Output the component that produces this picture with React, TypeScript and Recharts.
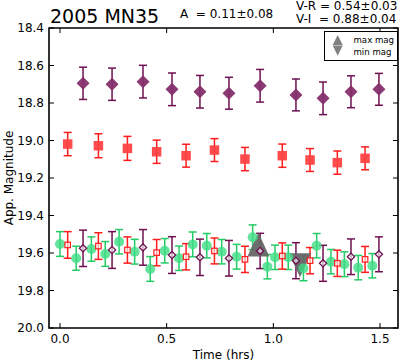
import {
  ComposedChart,
  Scatter,
  XAxis,
  YAxis,
  ErrorBar,
  ReferenceArea,
  Legend,
} from 'recharts';

const FONT = '"DejaVu Sans", Verdana, sans-serif';
const PLOT_W = 349;
const PLOT_H = 300;

const xTicks = [0, 0.5, 1.0, 1.5];
const yTicks = [18.4, 18.6, 18.8, 19.0, 19.2, 19.4, 19.6, 19.8, 20.0];
const xDomain = [-0.0516, 1.5844];
const yDomain = [18.4, 20.0];

// I band (diamonds), observed and shifted by V-I
const iTimes = [0.108, 0.244, 0.389, 0.525, 0.656, 0.792, 0.938, 1.106, 1.233, 1.364, 1.495];
const iMags = [18.695, 18.7, 18.686, 18.727, 18.74, 18.748, 18.708, 18.757, 18.775, 18.74, 18.727];
const iErr = [0.086, 0.086, 0.087, 0.087, 0.087, 0.085, 0.087, 0.085, 0.087, 0.085, 0.085];
const iShiftMags = [19.575, 19.584, 19.57, 19.611, 19.623, 19.628, 19.589, 19.641, 19.655, 19.62, 19.607];
const iShiftErr = [0.097, 0.098, 0.095, 0.098, 0.097, 0.095, 0.094, 0.096, 0.096, 0.095, 0.093];

// R band (squares), observed and shifted by V-R
const rTimes = [0.036, 0.18, 0.316, 0.453, 0.591, 0.724, 0.867, 1.042, 1.172, 1.3, 1.43];
const rMags = [19.019, 19.028, 19.042, 19.06, 19.081, 19.051, 19.099, 19.081, 19.104, 19.118, 19.095];
const rErr = [0.062, 0.064, 0.064, 0.062, 0.061, 0.061, 0.062, 0.062, 0.061, 0.062, 0.061];
const rShiftMags = [19.557, 19.563, 19.584, 19.598, 19.62, 19.589, 19.634, 19.616, 19.641, 19.655, 19.634];
const rShiftErr = [0.071, 0.071, 0.07, 0.07, 0.07, 0.069, 0.07, 0.07, 0.07, 0.07, 0.069];

// V band (circles)
const vTimes = [
  0.0, 0.076, 0.147, 0.212, 0.277, 0.35, 0.423, 0.491, 0.558, 0.622, 0.688, 0.758,
  0.828, 0.903, 0.972, 1.008, 1.07, 1.141, 1.203, 1.27, 1.333, 1.398, 1.464,
];
const vMags = [
  19.552, 19.628, 19.579, 19.605, 19.54, 19.593, 19.685, 19.588, 19.628, 19.554, 19.561, 19.593,
  19.62, 19.516, 19.673, 19.623, 19.623, 19.682, 19.561, 19.646, 19.66, 19.678, 19.668,
];
const vErr = [
  0.066, 0.064, 0.065, 0.066, 0.065, 0.066, 0.066, 0.065, 0.065, 0.066, 0.065, 0.065,
  0.066, 0.066, 0.065, 0.065, 0.065, 0.066, 0.065, 0.065, 0.066, 0.065, 0.065,
];

// lightcurve extrema
const maxTimes = [0.93];
const maxMags = [19.555];
const minTimes = [1.125];
const minMags = [19.665];

const toPoints = (ts: number[], ms: number[], es?: number[]) =>
  ts.map((t, i) => ({ t, mag: ms[i], err: es ? es[i] : 0 }));

const iData = toPoints(iTimes, iMags, iErr);
const iShiftData = toPoints(iTimes, iShiftMags, iShiftErr);
const rData = toPoints(rTimes, rMags, rErr);
const rShiftData = toPoints(rTimes, rShiftMags, rShiftErr);
const vData = toPoints(vTimes, vMags, vErr);
const maxData = toPoints(maxTimes, maxMags);
const minData = toPoints(minTimes, minMags);

const PURPLE = '#862f6b';
const PURPLE_BAR = '#6e1050';
const RED = '#ff4242';
const RED_BAR = '#ff1c1c';
const GREEN = '#3ddc84';
const GREEN_BAR = '#24cc66';
const GRAY = '#666666';

const diamond = (h: number, fill: string, stroke: string, open: boolean) => (p: any) => (
  <path
    d={`M${p.cx},${p.cy - h}L${p.cx + h},${p.cy}L${p.cx},${p.cy + h}L${p.cx - h},${p.cy}Z`}
    fill={open ? '#fff' : fill}
    fillOpacity={open ? 0.6 : 0.95}
    stroke={stroke}
    strokeWidth={open ? 1.3 : 0}
  />
);

const square = (s: number, fill: string, stroke: string, open: boolean) => (p: any) => (
  <rect
    x={p.cx - s / 2}
    y={p.cy - s / 2}
    width={s}
    height={s}
    fill={open ? '#fff' : fill}
    fillOpacity={open ? 0.6 : 0.95}
    stroke={stroke}
    strokeWidth={open ? 1.2 : 0}
  />
);

const circle = (r: number, fill: string) => (p: any) => (
  <circle cx={p.cx} cy={p.cy} r={r} fill={fill} fillOpacity={0.8} />
);

// extrema markers: 22px wide, 24px tall
const triangle = (up: boolean) => (p: any) => {
  const cx = Number(p.cx);
  const cy = Number(p.cy);
  const s = up ? 1 : -1;
  const pts = [
    [cx, cy - s * 12],
    [cx - 11, cy + s * 12],
    [cx + 11, cy + s * 12],
  ];
  return <polygon points={pts.map((q) => q.join(',')).join(' ')} fill={GRAY} fillOpacity={0.95} />;
};

const XTick = ({ x, y, payload }: any) => (
  <g>
    <line x1={x} x2={x} y1={y} y2={y - 5} stroke="#000" />
    <line x1={x} x2={x} y1={y - PLOT_H} y2={y - PLOT_H + 5} stroke="#000" />
    <text x={x} y={y + 15.3} textAnchor="middle" fontSize={12} fontFamily={FONT} fill="#000">
      {payload.value.toFixed(1)}
    </text>
  </g>
);

const YTick = ({ x, y, payload }: any) => (
  <g>
    <line x1={x} x2={x + 5} y1={y} y2={y} stroke="#000" />
    <line x1={x + PLOT_W - 5} x2={x + PLOT_W} y1={y} y2={y} stroke="#000" />
    <text x={x - 5} y={y} dy="0.36em" textAnchor="end" fontSize={12} fontFamily={FONT} fill="#000">
      {payload.value.toFixed(1)}
    </text>
  </g>
);

const ExtremaLegend = () => (
  <svg width={74} height={30} style={{ display: 'block' }}>
    <rect x={0.5} y={0.5} width={73} height={29} fill="#fff" stroke="#000" strokeWidth={1} />
    <path d="M13.7,4L8.7,14L18.7,14Z" fill="#808080" />
    <path d="M8.7,14.6L18.7,14.6L13.7,24.8Z" fill="#808080" />
    <text x={29.5} y={11.8} fontSize={8.6} fontFamily={FONT} fill="#000">
      max mag
    </text>
    <text x={29.5} y={24.4} fontSize={8.6} fontFamily={FONT} fill="#000">
      min mag
    </text>
  </svg>
);

export default function App() {
  return (
    <div style={{ position: 'absolute', left: 0, top: 0, width: 401, height: 362, background: '#fff' }}>
      <ComposedChart
        width={401}
        height={362}
        margin={{ top: 28, right: 3, left: 0, bottom: 0 }}
        style={{ fontFamily: FONT }}
      >
        <XAxis
          dataKey="t"
          type="number"
          domain={xDomain}
          ticks={xTicks}
          allowDataOverflow
          axisLine={false}
          tickSize={0}
          tickMargin={0}
          tick={<XTick />}
          height={34}
          label={{
            value: 'Time (hrs)',
            position: 'insideBottom',
            offset: 3,
            fontSize: 12,
            fill: '#000',
            fontFamily: FONT,
          }}
        />
        <YAxis
          dataKey="mag"
          type="number"
          domain={yDomain}
          ticks={yTicks}
          reversed
          allowDataOverflow
          axisLine={false}
          tickSize={0}
          tickMargin={0}
          tick={<YTick />}
          width={49}
          label={{
            value: 'App. Magnitude',
            angle: -90,
            position: 'insideLeft',
            offset: 9,
            fontSize: 12,
            fill: '#000',
            fontFamily: FONT,
            style: { textAnchor: 'middle' },
          }}
        />
        <ReferenceArea
          x1={xDomain[0]}
          x2={xDomain[1]}
          y1={yDomain[0]}
          y2={yDomain[1]}
          fill="none"
          stroke="#000"
          strokeWidth={1.6}
          strokeOpacity={1}
        />

        <Scatter data={maxData} shape={triangle(true)} isAnimationActive={false} />
        <Scatter data={minData} shape={triangle(false)} isAnimationActive={false} />

        <Scatter data={vData} shape={circle(5, GREEN)} isAnimationActive={false}>
          <ErrorBar dataKey="err" direction="y" width={4} stroke={GREEN_BAR} strokeWidth={1.5} />
        </Scatter>
        <Scatter data={rShiftData} shape={square(5.5, RED, RED_BAR, true)} isAnimationActive={false}>
          <ErrorBar dataKey="err" direction="y" width={4} stroke={RED_BAR} strokeWidth={1.5} />
        </Scatter>
        <Scatter data={iShiftData} shape={diamond(3.6, PURPLE, PURPLE_BAR, true)} isAnimationActive={false}>
          <ErrorBar dataKey="err" direction="y" width={4} stroke={PURPLE_BAR} strokeWidth={1.5} />
        </Scatter>

        <Scatter data={rData} shape={square(9.5, RED, RED_BAR, false)} isAnimationActive={false}>
          <ErrorBar dataKey="err" direction="y" width={4} stroke={RED_BAR} strokeWidth={1.5} />
        </Scatter>
        <Scatter data={iData} shape={diamond(6.5, PURPLE, PURPLE_BAR, false)} isAnimationActive={false}>
          <ErrorBar dataKey="err" direction="y" width={4} stroke={PURPLE_BAR} strokeWidth={1.5} />
        </Scatter>

        <Legend
          layout="horizontal"
          verticalAlign="middle"
          align="center"
          wrapperStyle={{ position: 'absolute', left: 324, top: 31, width: 74, height: 30 }}
          content={() => <ExtremaLegend />}
        />
      </ComposedChart>

      <svg
        width={401}
        height={30}
        style={{ position: 'absolute', left: 0, top: 0, pointerEvents: 'none' }}
      >
        <text x={50} y={23.3} fontSize={19} fontFamily={FONT} fill="#000">
          2005 MN35
        </text>
        <text x={180} y={17.5} fontSize={12} fontFamily={FONT} fill="#000" style={{ whiteSpace: 'pre' }}>
          {'A  = 0.11\u00b10.08'}
        </text>
        <text x={296} y={10} fontSize={12} fontFamily={FONT} fill="#000" style={{ whiteSpace: 'pre' }}>
          {'V-R = 0.54\u00b10.03'}
        </text>
        <text x={296} y={23} fontSize={12} fontFamily={FONT} fill="#000" style={{ whiteSpace: 'pre' }}>
          {'V-I  = 0.88\u00b10.04'}
        </text>
      </svg>
    </div>
  );
}
